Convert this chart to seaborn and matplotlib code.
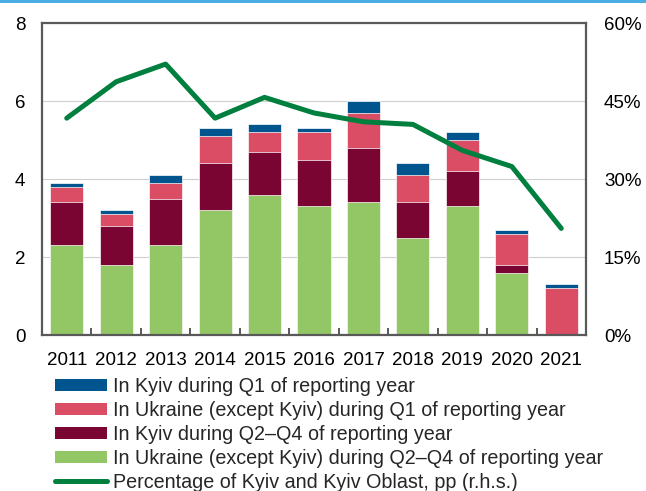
import numpy as np
import pandas as pd
import matplotlib
matplotlib.use("Agg")
import matplotlib.pyplot as plt
import seaborn as sns
from matplotlib.patches import Patch, Rectangle
from matplotlib.lines import Line2D
from matplotlib.ticker import FixedLocator, FuncFormatter

years = ["2011", "2012", "2013", "2014", "2015", "2016", "2017", "2018", "2019", "2020", "2021"]
ukr_q2q4 = [2.3, 1.8, 2.3, 3.2, 3.6, 3.3, 3.4, 2.5, 3.3, 1.6, 0.0]
kyiv_q2q4 = [1.1, 1.0, 1.2, 1.2, 1.1, 1.2, 1.4, 0.9, 0.9, 0.2, 0.0]
ukr_q1 = [0.4, 0.3, 0.4, 0.7, 0.5, 0.7, 0.9, 0.7, 0.8, 0.8, 1.2]
kyiv_q1 = [0.1, 0.1, 0.2, 0.2, 0.2, 0.1, 0.3, 0.3, 0.2, 0.1, 0.1]
kyiv_share_pct = [41.7, 48.7, 52.1, 41.7, 45.7, 42.7, 41.0, 40.5, 35.5, 32.4, 20.5]

labels = [
    "In Kyiv during Q1 of reporting year",
    "In Ukraine (except Kyiv) during Q1 of reporting year",
    "In Kyiv during Q2\u2013Q4 of reporting year",
    "In Ukraine (except Kyiv) during Q2\u2013Q4 of reporting year",
    "Percentage of Kyiv and Kyiv Oblast, pp (r.h.s.)",
]

c_blue = "#00558F"
c_pink = "#DB4C65"
c_maroon = "#7B0532"
c_lgreen = "#93C664"
c_line = "#007F3F"
c_spine = "#595959"

sns.set_theme(style="white")
plt.rcParams["font.family"] = ["Liberation Sans", "DejaVu Sans"]

fig = plt.figure(figsize=(6.46, 4.91), dpi=100)
ax = fig.add_axes([42 / 646, 1 - 335 / 491, (586 - 42) / 646, (335 - 23) / 491])

df = pd.DataFrame({
    "year": years,
    "s1": np.array(ukr_q2q4),
    "s2": np.array(ukr_q2q4) + np.array(kyiv_q2q4),
    "s3": np.array(ukr_q2q4) + np.array(kyiv_q2q4) + np.array(ukr_q1),
    "s4": np.array(ukr_q2q4) + np.array(kyiv_q2q4) + np.array(ukr_q1) + np.array(kyiv_q1),
})

for col, c in [("s4", c_blue), ("s3", c_pink), ("s2", c_maroon), ("s1", c_lgreen)]:
    sns.barplot(data=df, x="year", y=col, color=c, width=0.67, errorbar=None,
                edgecolor="white", linewidth=0.5, saturation=1, ax=ax, zorder=2)

ax.set_ylim(0, 8)
ax.set_yticks([0, 2, 4, 6, 8])
ax.set_xlabel("")
ax.set_ylabel("")
ax.grid(axis="y", color="#CFCFCF", linewidth=0.8, zorder=0)
ax.set_axisbelow(True)
for s in ax.spines.values():
    s.set_visible(True)
    s.set_color(c_spine)
    s.set_linewidth(1.6)
ax.tick_params(axis="y", length=0, pad=12, labelsize=13.5, colors="black")
ax.tick_params(axis="x", which="major", length=0, pad=12, labelsize=13.5, colors="black")
ax.xaxis.set_minor_locator(FixedLocator(np.arange(0.5, 10.5, 1.0)))
ax.tick_params(axis="x", which="minor", direction="in", length=5, width=1.4, color=c_spine, bottom=True)

ax2 = ax.twinx()
sns.lineplot(x=np.arange(len(years)), y=kyiv_share_pct, ax=ax2, color=c_line,
             linewidth=3.6, zorder=3)
ax2.set_ylim(0, 60)
ax2.set_yticks([0, 15, 30, 45, 60])
ax2.yaxis.set_major_formatter(FuncFormatter(lambda v, p: f"{v:.0f}%"))
ax2.tick_params(axis="y", length=0, pad=13, labelsize=13.5, colors="black")
for s in ax2.spines.values():
    s.set_visible(False)
ax2.grid(False)
ax.set_xlim(-0.5, 10.5)

handles = [
    Patch(facecolor=c_blue, edgecolor="none"),
    Patch(facecolor=c_pink, edgecolor="none"),
    Patch(facecolor=c_maroon, edgecolor="none"),
    Patch(facecolor=c_lgreen, edgecolor="none"),
    Line2D([0], [0], color=c_line, linewidth=3.6, solid_capstyle="round"),
]
fig.legend(handles, labels, loc="upper left", bbox_to_anchor=(55 / 646, 1 - 377 / 491),
           frameon=False, fontsize=14.2, borderpad=0, borderaxespad=0,
           handlelength=2.65, handleheight=0.55, handletextpad=0.3, labelspacing=0.25)

fig.patches.append(Rectangle((0, 1 - 3 / 491), 1, 3 / 491, transform=fig.transFigure,
                             facecolor="#4AAEE4", edgecolor="none"))

fig.savefig("out.png", dpi=100)
